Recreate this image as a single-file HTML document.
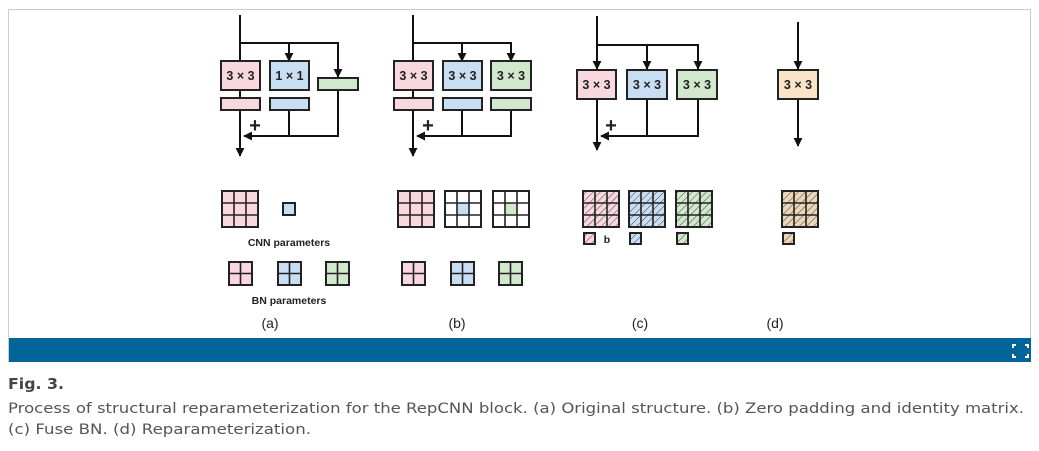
<!DOCTYPE html>
<html><head><meta charset="utf-8"><style>
body{margin:0;background:#fff;width:1039px;height:447px;overflow:hidden;font-family:"DejaVu Sans","Liberation Sans",sans-serif}
</style></head><body>
<svg width="1039" height="447" viewBox="0 0 1039 447" xmlns="http://www.w3.org/2000/svg">
<defs>
<marker id="ar" viewBox="0 0 10 10" refX="9" refY="5" markerUnits="userSpaceOnUse" markerWidth="9" markerHeight="9" orient="auto-start-reverse"><path d="M0,0L10,5L0,10z" fill="#111"/></marker>
<pattern id="h" width="5" height="5" patternUnits="userSpaceOnUse" patternTransform="rotate(45)"><line x1="0" y1="0" x2="0" y2="5" stroke="#444" stroke-width="1"/></pattern>
<g id="g3"><rect x="0" y="0" width="36" height="36" fill="none" stroke="#222" stroke-width="2"/><path d="M12 0V36M24 0V36M0 12H36M0 24H36" stroke="#222" stroke-width="1.6"/></g>
<g id="g2"><rect x="0" y="0" width="23" height="23" fill="none" stroke="#222" stroke-width="2"/><path d="M11.5 0V23M0 11.5H23" stroke="#222" stroke-width="1.6"/></g>
</defs>
<rect x="8.5" y="9.5" width="1022" height="352" fill="#fff" stroke="#ccc"/>
<rect x="9" y="338" width="1022" height="24" fill="#00669a"/>
<g fill="none" stroke="#fff" stroke-width="2"><path d="M1013 348v-3h3M1025 345h3v3M1013 354v3h3M1028 354v3h-3"/></g>

<g stroke="#111" stroke-width="2" fill="none">
<path d="M240 15V156" marker-end="url(#ar)"/>
<path d="M240 43H338V77" marker-end="url(#ar)"/>
<path d="M289 43V61" marker-end="url(#ar)"/>
<path d="M289 110V136M338 90V136H244" marker-end="url(#ar)"/>
<path d="M413 15V156" marker-end="url(#ar)"/>
<path d="M413 43H511V61" marker-end="url(#ar)"/>
<path d="M462 43V61" marker-end="url(#ar)"/>
<path d="M462 110V136M511 110V136H417" marker-end="url(#ar)"/>
<path d="M597 16V69" marker-end="url(#ar)"/>
<path d="M597 99V150" marker-end="url(#ar)"/>
<path d="M597 45H698V69" marker-end="url(#ar)"/>
<path d="M647 45V69" marker-end="url(#ar)"/>
<path d="M647 99V136M698 99V136H601" marker-end="url(#ar)"/>
<path d="M798 22V69" marker-end="url(#ar)"/>
<path d="M798 99V146" marker-end="url(#ar)"/>
</g>

<g stroke="#222" stroke-width="2">
<rect x="221" y="61" width="39" height="29" fill="#f8d7df"/>
<rect x="270" y="61" width="39" height="29" fill="#c9ddf3"/>
<rect x="318" y="78" width="40" height="12" fill="#d2e8cc"/>
<rect x="221" y="98" width="39" height="12" fill="#f8d7df"/>
<rect x="270" y="98" width="39" height="12" fill="#c9ddf3"/>
<rect x="394" y="61" width="39" height="29" fill="#f8d7df"/>
<rect x="443" y="61" width="39" height="29" fill="#c9ddf3"/>
<rect x="491" y="61" width="40" height="29" fill="#d2e8cc"/>
<rect x="394" y="98" width="39" height="12" fill="#f8d7df"/>
<rect x="443" y="98" width="39" height="12" fill="#c9ddf3"/>
<rect x="491" y="98" width="40" height="12" fill="#d2e8cc"/>
<rect x="577" y="70" width="39" height="29" fill="#f8d7df"/>
<rect x="627" y="70" width="40" height="29" fill="#c9ddf3"/>
<rect x="677" y="70" width="40" height="29" fill="#d2e8cc"/>
<rect x="778" y="70" width="40" height="29" fill="#fbe3c8"/>
</g>
<g font-family="Liberation Sans,sans-serif" font-weight="bold" font-size="12.5" text-anchor="middle" fill="#222">
<text x="240.5" y="80">3 × 3</text><text x="289.5" y="80">1 × 1</text>
<text x="413.5" y="80">3 × 3</text><text x="462.5" y="80">3 × 3</text><text x="511" y="80">3 × 3</text>
<text x="596.5" y="89">3 × 3</text><text x="647" y="89">3 × 3</text><text x="697" y="89">3 × 3</text><text x="798" y="89">3 × 3</text>
<text x="255" y="132" font-size="20">+</text><text x="428" y="132" font-size="20">+</text><text x="611" y="132" font-size="20">+</text>
<text x="289" y="246" font-size="10.5">CNN parameters</text>
<text x="289" y="304" font-size="10.5">BN parameters</text>
<text x="607" y="243" font-size="10.5">b</text>
</g>

<rect x="222" y="191" width="36" height="36" fill="#f8d7df"/><use href="#g3" x="222" y="191"/>
<rect x="283" y="203" width="12" height="12" fill="#c9ddf3" stroke="#222" stroke-width="2"/>
<rect x="229" y="262" width="23" height="23" fill="#f8d7df"/><use href="#g2" x="229" y="262"/>
<rect x="278" y="262" width="23" height="23" fill="#c9ddf3"/><use href="#g2" x="278" y="262"/>
<rect x="326" y="262" width="23" height="23" fill="#d2e8cc"/><use href="#g2" x="326" y="262"/>
<rect x="398" y="191" width="36" height="36" fill="#f8d7df"/><use href="#g3" x="398" y="191"/>
<rect x="457" y="203" width="12" height="12" fill="#c9ddf3"/><use href="#g3" x="445" y="191"/>
<rect x="505" y="203" width="12" height="12" fill="#d2e8cc"/><use href="#g3" x="493" y="191"/>
<rect x="402" y="262" width="23" height="23" fill="#f8d7df"/><use href="#g2" x="402" y="262"/>
<rect x="451" y="262" width="23" height="23" fill="#c9ddf3"/><use href="#g2" x="451" y="262"/>
<rect x="499" y="262" width="23" height="23" fill="#d2e8cc"/><use href="#g2" x="499" y="262"/>
<rect x="583" y="191" width="36" height="36" fill="#f8d7df"/><rect x="583" y="191" width="36" height="36" fill="url(#h)"/><use href="#g3" x="583" y="191"/>
<rect x="629" y="191" width="36" height="36" fill="#c9ddf3"/><rect x="629" y="191" width="36" height="36" fill="url(#h)"/><use href="#g3" x="629" y="191"/>
<rect x="676" y="191" width="36" height="36" fill="#d2e8cc"/><rect x="676" y="191" width="36" height="36" fill="url(#h)"/><use href="#g3" x="676" y="191"/>
<rect x="782" y="191" width="36" height="36" fill="#ecd6b8"/><rect x="782" y="191" width="36" height="36" fill="url(#h)"/><use href="#g3" x="782" y="191"/>
<g stroke="#222" stroke-width="2">
<rect x="584" y="233" width="11" height="11" fill="#f8d7df"/><rect x="584" y="233" width="11" height="11" fill="url(#h)"/>
<rect x="630" y="233" width="11" height="11" fill="#c9ddf3"/><rect x="630" y="233" width="11" height="11" fill="url(#h)"/>
<rect x="677" y="233" width="11" height="11" fill="#d2e8cc"/><rect x="677" y="233" width="11" height="11" fill="url(#h)"/>
<rect x="783" y="233" width="11" height="11" fill="#ecd6b8"/><rect x="783" y="233" width="11" height="11" fill="url(#h)"/>
</g>
<g font-family="Liberation Sans,sans-serif" font-size="14" text-anchor="middle" fill="#222">
<text x="270" y="328">(a)</text><text x="457" y="328">(b)</text><text x="640" y="328">(c)</text><text x="775" y="328">(d)</text>
</g>
<g font-family="DejaVu Sans,sans-serif" fill="#555">
<text x="8" y="389" font-size="15" font-weight="bold" fill="#444" textLength="56" lengthAdjust="spacingAndGlyphs">Fig. 3.</text>
<text x="8" y="413" font-size="14.5" textLength="1016" lengthAdjust="spacingAndGlyphs">Process of structural reparameterization for the RepCNN block. (a) Original structure. (b) Zero padding and identity matrix.</text>
<text x="8" y="434" font-size="14.5" textLength="303" lengthAdjust="spacingAndGlyphs">(c) Fuse BN. (d) Reparameterization.</text>
</g>
</svg>
</body></html>
